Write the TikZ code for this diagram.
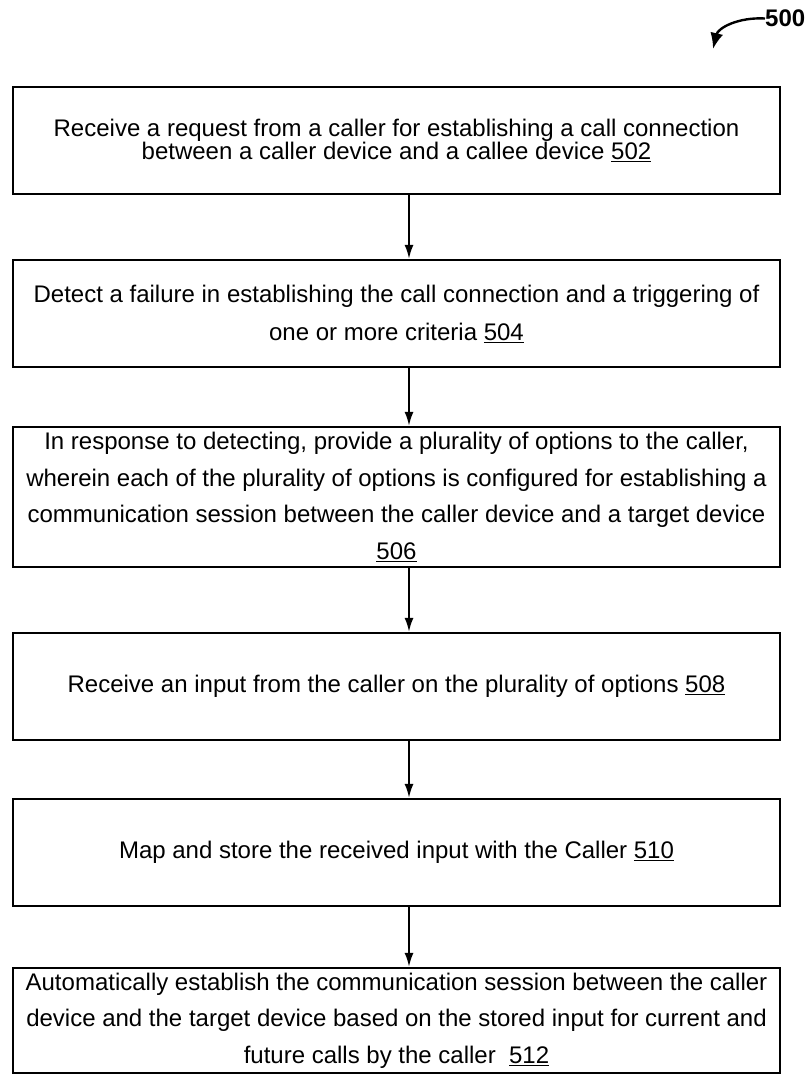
\documentclass[tikz,border=0pt]{standalone}
\usepackage{fontspec}
\setmainfont{Liberation Sans}
\usetikzlibrary{arrows.meta}
\begin{document}
\begin{tikzpicture}[x=1pt,y=-1pt,
  box/.style={draw, line width=2.2pt, minimum width=767pt, inner sep=0pt, align=center,
    font=\fontsize{24}{36.7}\selectfont},
  flow/.style={line width=2pt, -{Latex[length=14pt,width=9pt]}},
  refarrow/.style={line width=2.4pt, -{Latex[length=16pt,width=13pt]}}]
\useasboundingbox (0,0) rectangle (807,1075);
\coordinate (ax) at (409,0);

\node[box, minimum height=107pt, font=\fontsize{24}{22.5}\selectfont] (b1) at (396.5,140.5)
  {Receive a request from a caller for establishing a call connection\\
   between a caller device and a callee device \underline{502}};
\node[box, minimum height=107pt, font=\fontsize{24}{38}\selectfont] (b2) at (396.5,313.5)
  {Detect a failure in establishing the call connection and a triggering of\\
   one or more criteria \underline{504}};
\node[box, minimum height=140pt] (b3) at (396.5,497)
  {In response to detecting, provide a plurality of options to the caller,\\
   wherein each of the plurality of options is configured for establishing a\\
   communication session between the caller device and a target device\\
   \underline{506}};
\node[box, minimum height=107pt] (b4) at (396.5,686.5)
  {Receive an input from the caller on the plurality of options \underline{508}};
\node[box, minimum height=107pt] (b5) at (396.5,852.5)
  {Map and store the received input with the Caller \underline{510}};
\node[box, minimum height=105pt] (b6) at (396.5,1020.5)
  {Automatically establish the communication session between the caller\\
   device and the target device based on the stored input for current and\\
   future calls by the caller~~\underline{512}};

\draw[flow] (b1.south -| ax) -- (b2.north -| ax);
\draw[flow] (b2.south -| ax) -- (b3.north -| ax);
\draw[flow] (b3.south -| ax) -- (b4.north -| ax);
\draw[flow] (b4.south -| ax) -- (b5.north -| ax);
\draw[flow] (b5.south -| ax) -- (b6.north -| ax);

\node[anchor=west, inner sep=0pt, font=\fontsize{24}{24}\selectfont\bfseries] (lbl) at (765,18.5) {500};
\draw[refarrow] (lbl.west) .. controls (738,17) and (718,28) .. (713,49);
\end{tikzpicture}
\end{document}
